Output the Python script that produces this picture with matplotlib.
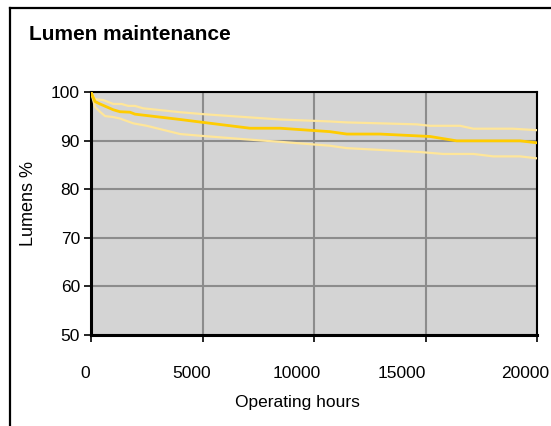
import matplotlib
matplotlib.use("Agg")
import matplotlib.pyplot as plt
from matplotlib.lines import Line2D
from matplotlib.transforms import ScaledTranslation

plt.rcParams['font.family'] = ['Liberation Sans', 'DejaVu Sans']

# operating hours / lumen %
hours_upper = [0, 180, 550, 1000, 1370, 1670, 1970, 2340, 4000, 5030, 8480,
               10700, 11470, 14600, 15200, 16550, 17150, 18930, 20000]
lumens_upper = [100, 98.6, 98.4, 97.6, 97.6, 97.2, 97.2, 96.7, 95.9, 95.5, 94.4,
                94.0, 93.8, 93.4, 93.1, 93.1, 92.5, 92.5, 92.2]

hours_mid = [0, 180, 400, 1000, 1300, 1750, 1970, 4000, 5030, 7130, 8480,
             10700, 11470, 12960, 15200, 16400, 19240, 20000]
lumens_mid = [100, 98.1, 97.6, 96.4, 96.0, 95.9, 95.5, 94.4, 93.8, 92.6, 92.6,
              91.9, 91.4, 91.4, 90.9, 90.0, 90.0, 89.6]

hours_lower = [0, 180, 400, 630, 1000, 1300, 1900, 2500, 4000, 5030, 6980, 8480,
               10700, 11470, 14750, 15790, 17150, 18040, 19240, 20000]
lumens_lower = [100, 97.0, 96.0, 95.1, 94.9, 94.6, 93.6, 93.1, 91.4, 91.0, 90.3, 89.8,
                89.0, 88.5, 87.7, 87.3, 87.3, 86.8, 86.8, 86.4]

x_ticks = [0, 5000, 10000, 15000, 20000]
y_ticks = [50, 60, 70, 80, 90, 100]

fig = plt.figure(figsize=(5.51, 4.26), dpi=100)
ax = fig.add_axes([0.1652, 0.2136, 0.8094, 0.5697])
ax.set_facecolor('#d4d4d4')

ax.plot(hours_upper, lumens_upper, color='#ffe699', lw=1.6, zorder=3)
ax.plot(hours_lower, lumens_lower, color='#ffe699', lw=1.6, zorder=3)
ax.plot(hours_mid, lumens_mid, color='#ffcc00', lw=2.0, zorder=4)

ax.set_xlim(0, 20000)
ax.set_ylim(50, 100)
ax.set_xticks(x_ticks)
ax.set_yticks(y_ticks)
ax.grid(True, color='#8c8c8c', lw=1.5)
ax.set_axisbelow(True)
for s in ax.spines.values():
    s.set_color('black')
    s.set_linewidth(1.5)
ax.spines['left'].set_linewidth(2.2)
ax.spines['bottom'].set_linewidth(2.2)
ax.tick_params(axis='both', direction='out', length=5, width=1.2, labelsize=12.5, colors='black')
ax.tick_params(axis='x', pad=17)
ax.tick_params(axis='y', pad=3)

# x tick labels in the reference sit progressively left of their ticks
shifts = [-6, -11, -17, -24, -12]
for lab, dx in zip(ax.get_xticklabels(), shifts):
    lab.set_transform(lab.get_transform() + ScaledTranslation(dx / 100, 0, fig.dpi_scale_trans))

fig.text(0.539, 0.056, 'Operating hours', ha='center', va='center', fontsize=12.5)
fig.text(0.051, 0.523, 'Lumens %', ha='center', va='center', rotation=90, fontsize=13)
fig.text(0.053, 0.92, 'Lumen maintenance', ha='left', va='center', fontsize=15, fontweight='bold')

# outer frame (left and top edges)
fig.add_artist(Line2D([0.019, 0.019], [0.0, 0.981], color='black', lw=1.6, transform=fig.transFigure))
fig.add_artist(Line2D([0.019, 1.0], [0.981, 0.981], color='black', lw=1.6, transform=fig.transFigure))

fig.savefig('out.png', dpi=100)
